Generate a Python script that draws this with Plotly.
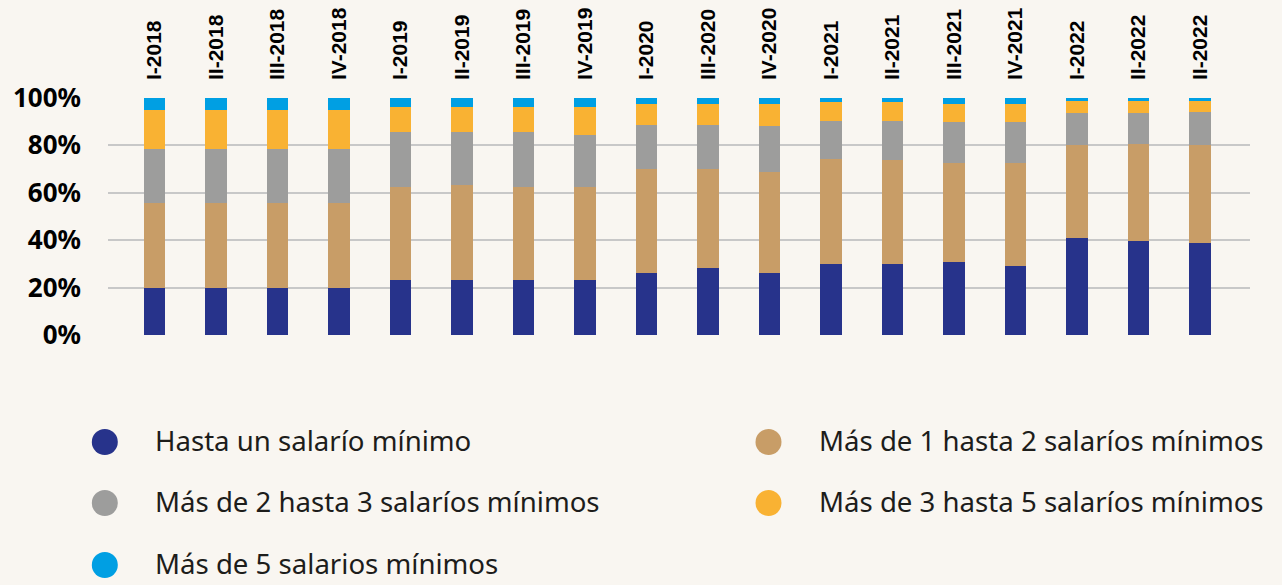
import plotly.graph_objects as go

# ---------------- data ----------------
labels = ["I-2018", "II-2018", "III-2018", "IV-2018",
          "I-2019", "II-2019", "III-2019", "IV-2019",
          "I-2020", "III-2020", "IV-2020",
          "I-2021", "II-2021", "III-2021", "IV-2021",
          "I-2022", "II-2022", "II-2022"]

hasta_1 = [20.1, 20.1, 20.1, 20.1, 23.3, 23.3, 23.3, 23.3, 26.3, 28.4, 26.3,
           30.1, 30.1, 30.9, 29.3, 41.1, 39.8, 39.0]
de_1_a_2 = [35.5, 35.5, 35.5, 35.5, 39.0, 40.1, 39.0, 39.0, 43.5, 41.4, 42.6,
            43.9, 43.5, 41.5, 43.1, 39.2, 40.9, 41.3]
de_2_a_3 = [23.0, 23.0, 23.0, 23.0, 23.1, 22.0, 23.1, 21.8, 18.9, 18.9, 19.0,
            16.0, 16.4, 17.2, 17.2, 13.1, 12.7, 13.5]
de_3_a_5 = [16.1, 16.1, 16.1, 16.1, 10.5, 10.5, 10.5, 11.8, 8.5, 8.5, 9.3,
            8.0, 8.0, 7.6, 7.6, 5.1, 5.1, 4.7]
mas_5 = [5.3, 5.3, 5.3, 5.3, 4.1, 4.1, 4.1, 4.1, 2.8, 2.8, 2.8,
         2.0, 2.0, 2.8, 2.8, 1.5, 1.5, 1.5]

series_names = ["Hasta un salarío mínimo",
                "Más de 1 hasta 2 salaríos mínimos",
                "Más de 2 hasta 3 salaríos mínimos",
                "Más de 3 hasta 5 salaríos mínimos",
                "Más de 5 salarios mínimos"]
series_values = [hasta_1, de_1_a_2, de_2_a_3, de_3_a_5, mas_5]
series_colors = ["#27338b", "#c89d67", "#9d9d9c", "#f9b233", "#009fe3"]

y_ticks = [0, 20, 40, 60, 80, 100]
y_ticktext = ["0%", "20%", "40%", "60%", "80%", "100%"]

# ---------------- layout geometry ----------------
W, H = 1282, 585
ML, MR, MT, MB = 108, 32, 97, 249
PW, PH = W - ML - MR, H - MT - MB
BG = "#f9f6f1"

def px2x(px):
    return (px - ML) / PW

def px2y(py):
    return (H - MB - py) / PH

x_pos = list(range(len(labels)))

fig = go.Figure()
for name, vals, col in zip(series_names, series_values, series_colors):
    fig.add_trace(go.Bar(
        x=x_pos, y=vals, name=name,
        marker=dict(color=col, line=dict(width=0)),
        showlegend=False,
        hovertemplate="%{y:.1f}%<extra>" + name + "</extra>",
    ))

# custom legend: circles + text (two columns)
legend_slots = [(104.8, 442), (768.5, 442), (104.8, 503), (768.5, 503), (104.8, 565)]
legend_order = [0, 1, 2, 3, 4]
shapes = []
annotations = []
for slot, idx in zip(legend_slots, legend_order):
    cx, cy = slot
    shapes.append(dict(
        type="circle", xref="paper", yref="paper",
        xsizemode="pixel", ysizemode="pixel",
        xanchor=px2x(cx), yanchor=px2y(cy),
        x0=-13, x1=13, y0=-13, y1=13,
        fillcolor=series_colors[idx], line=dict(width=0),
    ))
    annotations.append(dict(
        xref="paper", yref="paper",
        x=px2x(cx + 48), y=px2y(cy - 2),
        xanchor="left", yanchor="middle",
        text=series_names[idx], showarrow=False,
        font=dict(family="Noto Sans", size=27.6, color="#1d1d1b"),
    ))

fig.update_layout(
    width=W, height=H,
    margin=dict(l=ML, r=MR, t=MT, b=MB, pad=0, autoexpand=False),
    paper_bgcolor=BG, plot_bgcolor=BG,
    barmode="stack", bargap=0.65,
    shapes=shapes, annotations=annotations,
    showlegend=False,
    xaxis=dict(
        side="top", tickmode="array", tickvals=x_pos, ticktext=labels,
        tickangle=-90, range=[-0.756, 17.81], automargin=False,
        showgrid=False, zeroline=False, showline=False, ticks="",
        ticklabelstandoff=16,
        tickfont=dict(family="Liberation Sans, Arial", size=21,
                      color="#000000", weight="bold"),
    ),
    yaxis=dict(
        range=[-0.3, 100.3], tickmode="array", tickvals=y_ticks, ticktext=y_ticktext,
        automargin=False,
        showgrid=True, gridcolor="#c8c8c8", gridwidth=1.5,
        zeroline=False, showline=False, ticks="",
        ticklabelstandoff=26,
        tickfont=dict(family="Noto Sans", size=26, color="#000000", weight="bold"),
    ),
)

fig.write_html(
    "out.html",
    config={"displayModeBar": False},
    post_script="document.body.style.margin='0';document.body.style.background='" + BG + "';",
)
